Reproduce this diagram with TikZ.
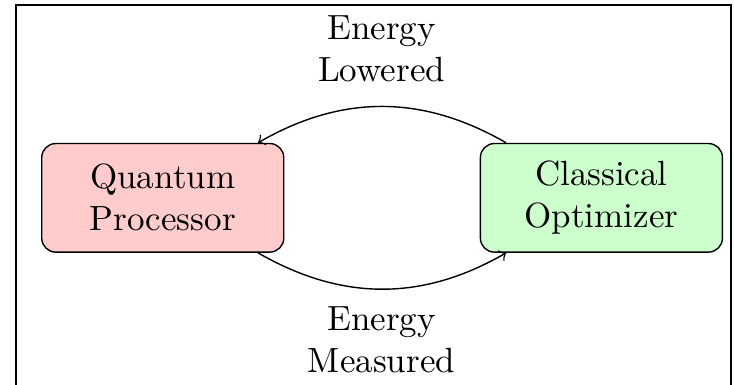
\documentclass[tikz,border=0pt]{standalone}
\usepackage{tikz}
\usetikzlibrary{positioning}
\tikzset{
  box/.style={rounded corners, draw, minimum width=24.3mm, minimum height=10.9mm, align=center},
  arrow/.style={->},
  lbl/.style={align=center},
}
\begin{document}
\begin{tikzpicture}
\useasboundingbox (0,0) rectangle (7.369,-3.865);
% frame
\draw[line width=0.6pt] (0.161,-3.865) -- (0.161,-0.05) -- (7.339,-0.05) -- (7.339,-3.865);

% the two stages
\node[box, fill=red!20] (qp) at (1.634,-1.986) {Quantum\\Processor};
\node[box, fill=green!20, right=1.96cm of qp] (co) {Classical\\Optimizer};

% feedback loop
\draw[arrow] (co) to[bend right=30] (qp);
\draw[arrow] (qp) to[bend right=30] (co);

% labels
\node[lbl] (lowered) at (3.83,-0.49) {Energy\\Lowered};
\node[lbl] (measured) at (3.83,-3.41) {Energy\\Measured};
\end{tikzpicture}
\end{document}
